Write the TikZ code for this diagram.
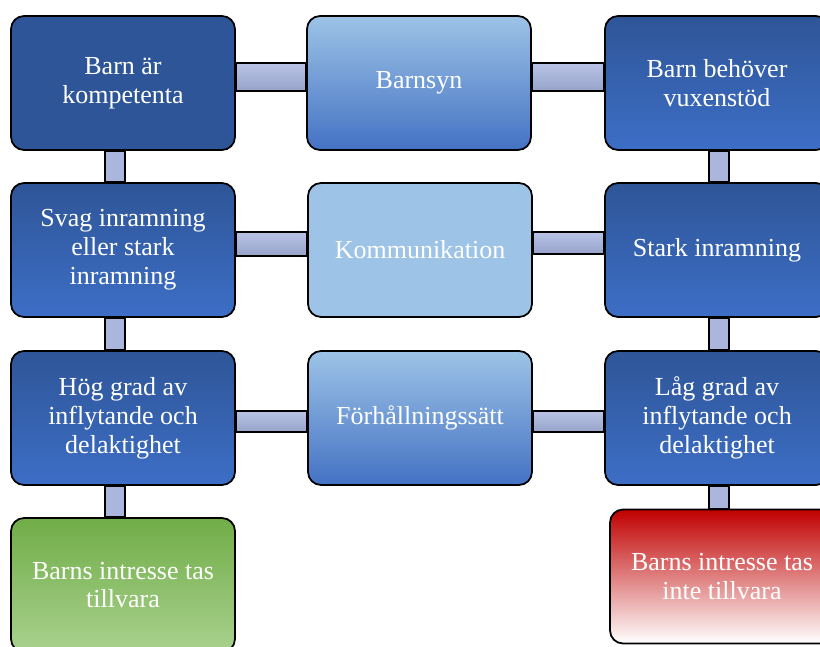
\documentclass[tikz,border=0pt]{standalone}
\usepackage{fontspec}
\setmainfont{Liberation Serif}
\usepackage{xcolor}
\usetikzlibrary{backgrounds}

\definecolor{darktop}{HTML}{2E5597}
\definecolor{darkbot}{HTML}{3D6EC6}
\definecolor{lightblue}{HTML}{9DC3E6}
\definecolor{midbot}{HTML}{4472C4}
\definecolor{greentop}{HTML}{70AD47}
\definecolor{greenbot}{HTML}{A9D18E}
\definecolor{redtop}{HTML}{C00000}
\definecolor{barlight}{HTML}{B8C3E6}
\definecolor{bardark}{HTML}{98A3CB}
\definecolor{barmid}{HTML}{AAB6DC}

\tikzset{
    box/.style={draw=black, line width=1pt, rounded corners=0.26cm,
        minimum width=4.48cm, minimum height=2.68cm, text=white, align=center,
        font=\fontsize{14.8}{16.4}\selectfont},
    darkflat/.style={box, fill=darktop},
    darkbox/.style={box, top color=darktop, bottom color=darkbot},
    midbox/.style={box, top color=lightblue, bottom color=midbot},
    lightbox/.style={box, fill=lightblue},
    greenbox/.style={box, top color=greentop, bottom color=greenbot},
    redbox/.style={box, top color=redtop, bottom color=white},
    hbar/.style={draw=black, line width=1pt, top color=barlight, bottom color=bardark},
    vbar/.style={draw=black, line width=1pt, fill=barmid}
}

\begin{document}
\begin{tikzpicture}[x=0.02cm, y=-0.02cm]
    \useasboundingbox (0,0) rectangle (820,646);

    % =====================
    % Left column
    % =====================
    \node[darkflat] (kompetenta) at (123,83) {Barn är\\kompetenta};
    \node[darkbox] (svag) at (123,250) {Svag inramning\\eller stark\\inramning};
    \node[darkbox] (hog) at (123,418) {Hög grad av\\inflytande och\\delaktighet};
    \node[greenbox] (tillvara) at (123,585) {Barns intresse tas\\tillvara};

    % =====================
    % Middle column
    % =====================
    \node[midbox] (barnsyn) at (419,83) {Barnsyn};
    \node[lightbox] (komm) at (420,250) {Kommunikation};
    \node[midbox] (forh) at (420,418) {Förhållningssätt};

    % =====================
    % Right column
    % =====================
    \node[darkbox] (vuxenstod) at (717,83) {Barn behöver\\vuxenstöd};
    \node[darkbox] (stark) at (717,250) {Stark inramning};
    \node[darkbox] (lag) at (717,418) {Låg grad av\\inflytande och\\delaktighet};
    \node[redbox] (intetillvara) at (722,576.5) {Barns intresse tas\\inte tillvara};

    % Connecting bars
    \begin{scope}[on background layer]
        \shade[hbar] (kompetenta.east |- 0,63) rectangle (barnsyn.west |- 0,91);
        \shade[hbar] (barnsyn.east |- 0,63) rectangle (vuxenstod.west |- 0,91);
        \shade[hbar] (svag.east |- 0,232) rectangle (komm.west |- 0,256);
        \shade[hbar] (komm.east |- 0,232) rectangle (stark.west |- 0,254);
        \shade[hbar] (hog.east |- 0,411) rectangle (forh.west |- 0,432);
        \shade[hbar] (forh.east |- 0,411) rectangle (lag.west |- 0,432);
        \foreach \a/\b/\xl/\xr in {kompetenta/svag/105/125, svag/hog/105/125, hog/tillvara/105/125,
                vuxenstod/stark/709/729, stark/lag/709/729, lag/intetillvara/709/729} {
            \draw[vbar] (\a.south -| \xl,0) rectangle (\b.north -| \xr,0);
        }
    \end{scope}
\end{tikzpicture}
\end{document}
